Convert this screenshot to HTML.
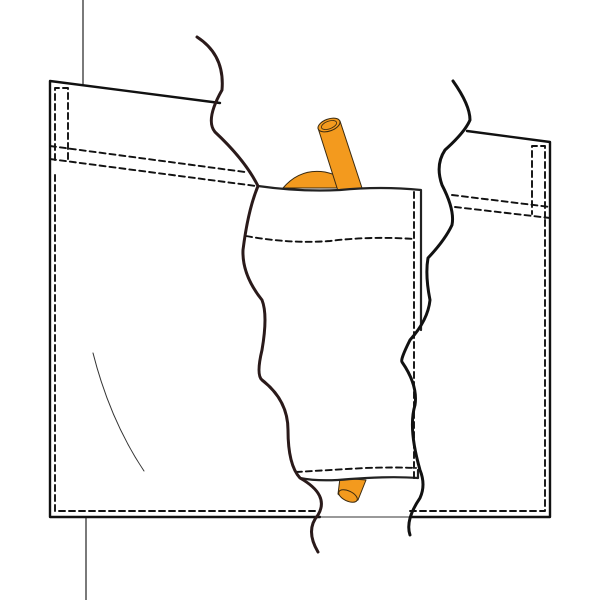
<!DOCTYPE html>
<html><head><style>html,body{margin:0;padding:0;background:#fff}svg{display:block}</style></head>
<body>
<svg width="600" height="600" viewBox="0 0 600 600" xmlns="http://www.w3.org/2000/svg" fill="none" stroke-linecap="round" stroke-linejoin="round">
<line x1="83" y1="0" x2="83" y2="84" stroke="#222" stroke-width="1.2"/>
<line x1="86" y1="517" x2="86" y2="600" stroke="#222" stroke-width="1.2"/>
<path d="M220,103 L50,81 L50,517 L320,517" stroke="#111" stroke-width="2.4"/>
<path d="M410,517 L550,517 L550,142 L467,131" stroke="#111" stroke-width="2.4"/>
<line x1="320" y1="517" x2="410" y2="517" stroke="#333" stroke-width="1"/>
<g stroke="#111" stroke-width="1.9" stroke-dasharray="6,4">
<path d="M55,175 L55,511 L318,511"/>
<path d="M410,511 L545,511 L545,220"/>
<path d="M55,160 L55,88 L68,88 L68,162"/>
<path d="M50,146 L245,172"/>
<path d="M50,159 L256,186"/>
<path d="M545,218 L545,146 L532,146 L532,214"/>
<path d="M452,195 L550,207"/>
<path d="M455,207 L550,218"/>
</g>
<path d="M93,353 Q110,420 144,471" stroke="#333" stroke-width="1"/>
<path d="M386,275 Q370,345 335,393" stroke="#333" stroke-width="1"/>
<path d="M283,188 Q300,168 325,172 Q343,176 360,188 Z" fill="#f39a1e" stroke="#3a2a10" stroke-width="1"/>
<path d="M318,128 L340,121 L362,188 L338,191 Z" fill="#f39a1e" stroke="#3a2a10" stroke-width="1"/>
<ellipse cx="329" cy="125" rx="11.5" ry="6" transform="rotate(-20 329 125)" fill="#f39a1e" stroke="#3a2a10" stroke-width="1"/>
<ellipse cx="329" cy="125" rx="8" ry="3.8" transform="rotate(-20 329 125)" stroke="#3a2a10" stroke-width="0.8"/>
<path d="M340,478 L366,480 L358,500 Q348,504 338,494 Z" fill="#f39a1e" stroke="#3a2a10" stroke-width="1"/>
<ellipse cx="348" cy="496" rx="10" ry="5" transform="rotate(25 348 496)" fill="#f39a1e" stroke="#3a2a10" stroke-width="1"/>
<path d="M258,186 Q300,192 340,190 Q380,186 421,190 L421,330 L418,478 Q380,476 350,479 Q320,482 300,478 Z" fill="#fff" stroke="none"/>
<path d="M258,186 Q300,192 340,190 Q380,186 421,190 L421,330" stroke="#222" stroke-width="2.2"/>
<path d="M300,478 Q320,482 350,479 Q390,476 418,478 L418,470" stroke="#222" stroke-width="2.2"/>
<g stroke="#111" stroke-width="1.9" stroke-dasharray="6,4">
<path d="M246,236 Q290,244 330,241 Q370,236 414,239"/>
<path d="M414,192 L414,478"/>
<path d="M296,472 Q330,470 365,468 Q395,467 416,468"/>
</g>
<path d="M197,37 Q225,55 222,90 Q205,120 215,132 Q245,160 258,186 Q248,210 243,250 Q242,275 262,300 Q268,315 262,350 Q256,375 262,380 Q288,400 288,430 Q288,465 300,478 Q330,495 318,515 Q305,530 318,552" stroke="#2a1a1a" stroke-width="3"/>
<path d="M453,81 Q470,105 470,120 Q465,132 445,150 Q435,165 442,185 Q455,210 452,225 Q445,240 428,258 Q425,275 430,300 Q428,320 410,340 Q400,360 402,362 Q418,385 415,405 Q408,428 420,470 Q426,485 420,498 Q405,520 410,535" stroke="#111" stroke-width="3"/>
</svg>
</body></html>
